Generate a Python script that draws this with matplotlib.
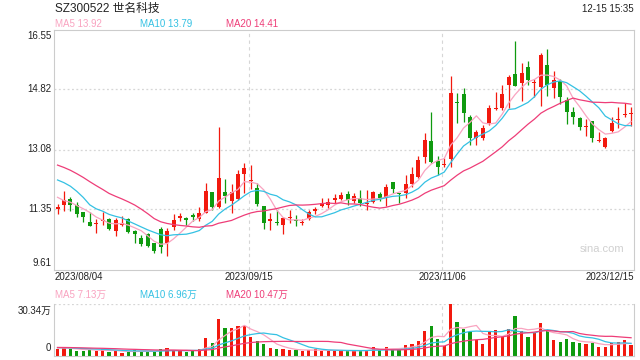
"""SZ300522 世名科技 — 日K线 + MA5/10/20 + 成交量 (2023/08/04 – 2023/12/15)."""
import matplotlib
matplotlib.use("Agg")
import matplotlib.pyplot as plt
import matplotlib.transforms as mtransforms
import numpy as np
import pandas as pd

RED, GREEN = "#f2190e", "#0f9a0f"
MA5_C, MA10_C, MA20_C = "#f9a3c0", "#34c1e3", "#ee3d78"
INK, GRID, EDGE = "#222222", "#d6d6d6", "#cccccc"
plt.rcParams["font.family"] = ["Liberation Sans", "Noto Sans CJK SC", "DejaVu Sans"]

# --- datos ---
open_ = [11.37, 11.48, 11.64, 11.47, 11.26, 10.99, 10.92, 11.00, 11.06, 10.73,
         10.91, 11.06, 10.73, 10.51, 10.63, 10.37, 10.77, 10.38, 10.84, 11.11,
         11.11, 11.19, 11.06, 11.25, 11.86, 11.41, 11.85, 11.60, 11.64, 12.37,
         12.17, 11.96, 11.45, 11.00, 10.97, 10.90, 11.10, 11.02, 10.95, 11.06,
         11.31, 11.45, 11.47, 11.63, 11.64, 11.79, 11.60, 11.67, 11.51, 11.57,
         11.79, 11.67, 12.15, 11.82, 11.83, 12.08, 12.29, 12.85, 13.33, 12.76,
         12.62, 12.80, 14.45, 14.68, 14.01, 13.40, 13.40, 13.84, 14.25, 14.27,
         14.94, 15.25, 15.01, 15.47, 15.00, 14.88, 15.52, 14.85, 15.07, 14.51,
         14.17, 13.98, 13.73, 13.90, 13.32, 13.14, 13.62, 13.94, 14.07, 14.10]
high = [11.50, 11.89, 11.72, 11.57, 11.28, 11.28, 11.07, 11.28, 11.10, 11.09,
        11.16, 11.09, 10.75, 10.61, 10.66, 10.39, 10.83, 10.80, 11.22, 11.23,
        11.14, 11.23, 11.43, 12.10, 11.86, 13.74, 12.23, 12.08, 12.49, 12.68,
        12.63, 12.10, 11.45, 11.23, 11.33, 11.14, 11.33, 11.19, 11.06, 11.33,
        11.43, 11.67, 11.69, 11.78, 11.84, 11.88, 11.83, 11.91, 11.91, 11.88,
        11.86, 12.08, 12.15, 11.83, 12.34, 12.58, 12.89, 13.55, 14.16, 12.89,
        12.82, 15.20, 14.72, 14.85, 14.08, 13.64, 13.78, 14.37, 14.75, 14.94,
        15.23, 16.23, 15.59, 15.65, 15.11, 15.86, 15.98, 15.36, 15.11, 14.61,
        14.30, 14.01, 13.96, 13.91, 13.59, 13.43, 14.01, 14.30, 14.42, 14.30]
low = [11.22, 11.31, 11.31, 11.14, 10.99, 10.87, 10.66, 10.90, 10.74, 10.58,
       10.87, 10.66, 10.38, 10.29, 10.27, 10.10, 10.10, 10.00, 10.75, 11.02,
       10.90, 11.02, 11.02, 11.25, 11.33, 11.38, 11.52, 11.25, 11.62, 11.82,
       11.93, 11.45, 10.78, 10.75, 10.90, 10.64, 10.96, 10.87, 10.90, 11.04,
       11.21, 11.43, 11.40, 11.52, 11.61, 11.47, 11.52, 11.45, 11.33, 11.52,
       11.60, 11.45, 11.81, 11.52, 11.67, 12.00, 12.25, 12.70, 12.70, 12.34,
       12.58, 12.58, 13.86, 13.88, 13.21, 13.21, 13.35, 13.79, 14.22, 14.22,
       14.27, 14.92, 14.49, 14.94, 14.61, 14.34, 14.63, 14.56, 14.40, 13.82,
       13.82, 13.64, 13.47, 13.31, 13.31, 13.11, 13.59, 13.69, 14.01, 13.76]
close = [11.39, 11.62, 11.47, 11.21, 11.14, 10.87, 10.95, 11.02, 10.77, 11.04,
         10.93, 10.70, 10.63, 10.35, 10.30, 10.15, 10.27, 10.72, 11.04, 11.13,
         11.03, 11.14, 11.23, 11.89, 11.41, 12.26, 11.73, 11.85, 12.37, 12.54,
         12.19, 11.50, 10.96, 11.06, 10.95, 11.10, 11.13, 11.00, 10.97, 11.28,
         11.35, 11.54, 11.55, 11.65, 11.76, 11.62, 11.73, 11.52, 11.53, 11.84,
         11.67, 12.00, 11.93, 11.80, 12.08, 12.37, 12.78, 13.35, 12.73, 12.58,
         12.64, 14.72, 14.42, 14.14, 13.40, 13.59, 13.69, 14.27, 14.28, 14.68,
         15.19, 14.92, 15.30, 15.09, 15.02, 15.81, 14.94, 15.09, 14.59, 14.17,
         14.03, 13.74, 13.75, 13.40, 13.34, 13.40, 13.85, 13.96, 14.09, 14.14]
# volumen, en 万股
volume = [3.6, 4.4, 4.0, 2.8, 2.8, 3.4, 2.8, 3.6, 2.1, 3.0,
          1.5, 2.1, 3.0, 2.5, 2.8, 2.3, 3.6, 4.4, 3.2, 2.8,
          2.3, 2.8, 3.6, 10.3, 7.4, 21.5, 16.2, 16.2, 17.4, 17.4,
          10.7, 8.5, 6.8, 4.4, 3.6, 3.6, 3.2, 3.2, 2.8, 3.2,
          3.6, 2.8, 2.8, 2.8, 2.8, 2.8, 2.8, 2.8, 3.2, 4.8,
          3.6, 4.8, 3.6, 3.6, 6.2, 6.8, 8.5, 14.4, 17.4, 9.5,
          5.6, 30.34, 19.7, 15.4, 14.0, 9.1, 6.8, 14.0, 15.0, 11.5,
          15.6, 23.3, 14.4, 10.9, 13.4, 19.3, 14.6, 9.1, 8.1, 9.7,
          8.1, 7.5, 6.8, 7.2, 5.2, 5.2, 7.5, 8.1, 9.1, 6.2]
# sesiones previas (fuera de la ventana), estimadas de las medias móviles del borde izquierdo
prev_close = [13.00, 13.10, 13.20, 13.30, 13.30, 13.25, 13.20, 13.09, 12.70, 12.46,
              12.40, 12.50, 12.70, 12.90, 13.00, 12.10, 11.70, 11.70, 11.60]
prev_volume = [4.6, 5.0, 4.8, 4.5, 5.2, 4.9, 4.7, 4.6, 5.0, 4.8,
               4.9, 4.7, 5.1, 4.6, 4.8, 4.9, 4.7, 4.5, 4.8]

y_ticks = [16.55, 14.82, 13.08, 11.35, 9.61]
x_tick_idx = [0, 30, 60, 89]
x_tick_labels = ["2023/08/04", "2023/09/15", "2023/11/06", "2023/12/15"]
ma_windows = [5, 10, 20]
ma_colors = [MA5_C, MA10_C, MA20_C]
ma_price_labels = ["MA5 13.92", "MA10 13.79", "MA20 14.41"]
ma_vol_labels = ["MA5 7.13万", "MA10 6.96万", "MA20 10.47万"]
vol_max = 30.34

W, H = 640, 360
fig = plt.figure(figsize=(W / 100, H / 100), dpi=100)
L, R = 54.3, 634.3
ax = fig.add_axes([L / W, 1 - 269.5 / H, (R - L) / W, 240 / H])
axv = fig.add_axes([L / W, 1 - 355.5 / H, (R - L) / W, 51.5 / H])

x = np.arange(len(close))
o, h, l, c = (np.array(v) for v in (open_, high, low, close))
cols = np.where(c >= o, RED, GREEN)

# velas
ax.vlines(x, l, h, colors=cols, lw=0.9)
ax.bar(x, np.maximum(np.abs(c - o), 0.035), bottom=np.minimum(o, c),
       width=0.62, color=cols, lw=0)

full_c = pd.Series(prev_close + close)
full_v = pd.Series(prev_volume + volume)
for n, col in zip(ma_windows, ma_colors):
    ax.plot(x, full_c.rolling(n).mean().iloc[len(prev_close):], color=col, lw=0.9)
    axv.plot(x, full_v.rolling(n).mean().iloc[len(prev_volume):], color=col, lw=0.9)

axv.bar(x, volume, width=0.5, color=cols, lw=0)

for a in (ax, axv):
    a.set_xlim(-0.5, len(close) - 0.5)
    a.set_xticks([])
    a.set_yticks([])
    for s in a.spines.values():
        s.set_color(EDGE)
        s.set_linewidth(0.8)
    for i in x_tick_idx[1:3]:
        a.axvline(i - 0.3, color=GRID, lw=0.8, ls=(0, (3, 3)), zorder=0)

ax.set_ylim(y_ticks[-1], y_ticks[0])
for v in y_ticks[1:-1]:
    ax.axhline(v, color=GRID, lw=0.9, ls=(0, (1.5, 2)), zorder=0)
axv.set_ylim(0, vol_max)
axv.spines["top"].set_visible(False)
axv.axhline(vol_max, color=GRID, lw=0.9, ls=(0, (1.5, 2)), zorder=0)

# etiquetas del eje y
tr = mtransforms.blended_transform_factory(fig.transFigure, ax.transData)
for k, v in enumerate(y_ticks):
    va = "top" if k == 0 else ("bottom" if k == len(y_ticks) - 1 else "center")
    dy = {"top": -0.04, "bottom": 0.03, "center": 0}[va]
    ax.text(51.5 / W, v + dy, f"{v:.2f}", transform=tr, ha="right", va=va,
            fontsize=7, color=INK)
fig.text(51.5 / W, 1 - 311 / H, f"{vol_max:.2f}万", ha="right", va="center", fontsize=7, color=INK)
fig.text(51.5 / W, 1 - 348 / H, "0", ha="right", va="center", fontsize=7, color=INK)

# etiquetas del eje x
trx = mtransforms.blended_transform_factory(ax.transData, fig.transFigure)
for k, (i, lab) in enumerate(zip(x_tick_idx, x_tick_labels)):
    if k == 0:
        xx, ha = -0.5, "left"
    elif k == len(x_tick_idx) - 1:
        xx, ha = len(close) - 0.5, "right"
    else:
        xx, ha = i - 0.3, "center"
    ax.text(xx, 1 - 277 / H, lab, transform=trx, ha=ha, va="center", fontsize=7, color=INK)

# cabecera y leyendas
fig.text(55 / W, 1 - 8.5 / H, "SZ300522 世名科技", ha="left", va="center", fontsize=8.5, color=INK)
fig.text(634 / W, 1 - 8.5 / H, "12-15 15:35", ha="right", va="center", fontsize=7, color=INK)
for xp, lab, col in zip([55, 140.5, 225.5], ma_price_labels, ma_colors):
    fig.text(xp / W, 1 - 24 / H, lab, ha="left", va="center", fontsize=7, color=col)
for xp, lab, col in zip([55, 140.5, 225.5], ma_vol_labels, ma_colors):
    fig.text(xp / W, 1 - 294.5 / H, lab, ha="left", va="center", fontsize=7, color=col)
fig.text(602 / W, 1 - 249 / H, "sina.com", ha="center", va="center", fontsize=8, color="#d0d0d0")

fig.savefig("out.png", dpi=100, facecolor="white")
